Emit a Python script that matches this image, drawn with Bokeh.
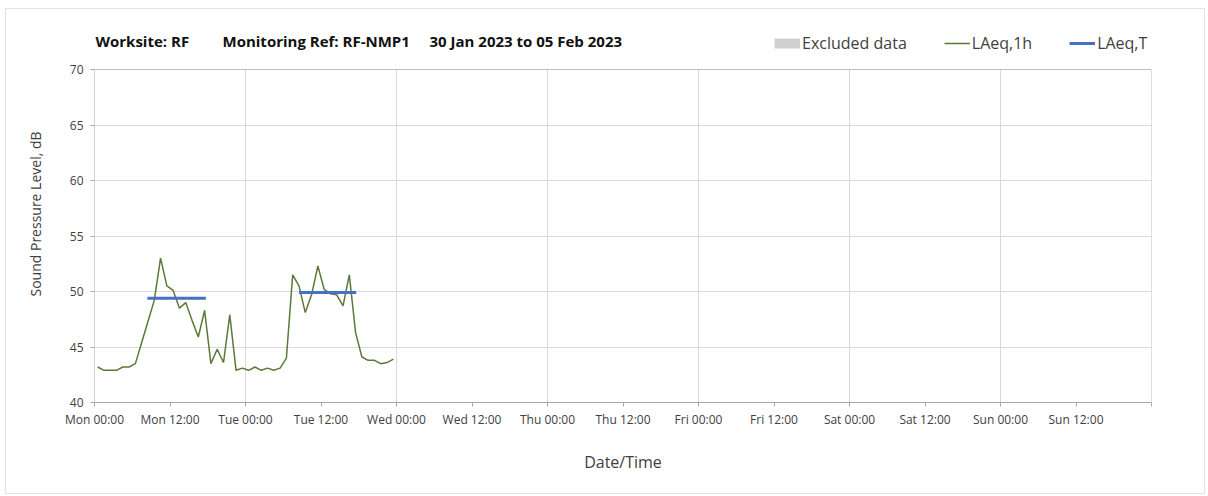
from bokeh.plotting import figure
from bokeh.models import Range1d, FixedTicker, Legend, LegendItem, Label
from bokeh.embed import file_html
from bokeh.resources import INLINE

# ---- data ----
title_parts = ["Worksite: RF", "Monitoring Ref: RF-NMP1", "30 Jan 2023 to 05 Feb 2023"]
tick_hours = [0, 12, 24, 36, 48, 60, 72, 84, 96, 108, 120, 132, 144, 156, 168]
tick_labels = ["Mon 00:00", "Mon 12:00", "Tue 00:00", "Tue 12:00", "Wed 00:00", "Wed 12:00",
               "Thu 00:00", "Thu 12:00", "Fri 00:00", "Fri 12:00", "Sat 00:00", "Sat 12:00",
               "Sun 00:00", "Sun 12:00", ""]
day_grid_hours = [24, 48, 72, 96, 120, 144]
y_ticks = [40, 45, 50, 55, 60, 65, 70]
y_min, y_max = 40, 70

hour_of_week = [0.5, 1.5, 2.5, 3.5, 4.5, 5.5, 6.5, 7.5, 8.5, 9.5, 10.5, 11.5,
                12.5, 13.5, 14.5, 15.5, 16.5, 17.5, 18.5, 19.5, 20.5, 21.5, 22.5, 23.5,
                24.5, 25.5, 26.5, 27.5, 28.5, 29.5, 30.5, 31.5, 32.5, 33.5, 34.5, 35.5,
                36.5, 37.5, 38.5, 39.5, 40.5, 41.5, 42.5, 43.5, 44.5, 45.5, 46.5, 47.5]
laeq_1h = [43.2, 42.9, 42.9, 42.9, 43.2, 43.2, 43.5, 45.4, 47.3, 49.2,
           53.0, 50.5, 50.1, 48.5, 49.0, 47.4, 45.9, 48.3, 43.5, 44.8,
           43.6, 47.9, 42.9, 43.1, 42.9, 43.2, 42.9, 43.1, 42.9, 43.1,
           44.0, 51.5, 50.5, 48.1, 49.7, 52.3, 50.2, 49.8, 49.7, 48.7,
           51.5, 46.3, 44.1, 43.8, 43.8, 43.5, 43.6, 43.9]

laeq_t_start = [8.4, 32.5]
laeq_t_end = [17.7, 41.6]
laeq_t_value = [49.4, 49.9]

# no excluded periods in this week (placeholder keeps the legend entry)
excluded_x = [float("nan")]
excluded_y = [float("nan")]

FONT = "Open Sans"
TXT = "#404040"
AX = "#a6a6a6"
GRID = "#d9d9d9"
FRAME = "#bfbfbf"

# frame extends above 70 dB to host the header (title + legend)
Y_TOP = 73.964

p = figure(width=1200, height=486, output_backend="svg", toolbar_location=None,
           x_range=Range1d(0, 168), y_range=Range1d(y_min, Y_TOP),
           min_border_left=88, min_border_right=55, min_border_top=16, min_border_bottom=93)
p.title.text = ""
p.outline_line_color = None
p.styles = {"border": "1px solid #e3e3e3", "margin-left": "5px", "margin-top": "8px"}

# axes
p.xaxis.ticker = FixedTicker(ticks=tick_hours)
p.xaxis.major_label_overrides = {h: l for h, l in zip(tick_hours, tick_labels)}
p.yaxis.ticker = FixedTicker(ticks=y_ticks)
for ax in (p.xaxis[0], p.yaxis[0]):
    ax.axis_line_color = AX
    ax.major_tick_line_color = AX
    ax.major_tick_out = 4
    ax.major_tick_in = 0
    ax.minor_tick_line_color = None
    ax.major_label_text_font = FONT
    ax.major_label_text_font_size = "12px"
    ax.major_label_text_color = TXT
    ax.axis_label_text_font = FONT
    ax.axis_label_text_font_style = "normal"
    ax.axis_label_text_color = TXT
p.yaxis.axis_line_color = None

p.xaxis.axis_label = "Date/Time"
p.xaxis.axis_label_text_font_size = "16px"
p.xaxis.major_label_standoff = 4
p.xaxis.axis_label_standoff = 20
p.yaxis.axis_label = "Sound Pressure Level, dB"
p.yaxis.axis_label_text_font_size = "14px"
p.yaxis.major_label_standoff = 7
p.yaxis.axis_label_standoff = 22

p.xgrid.grid_line_color = None
p.ygrid.ticker = FixedTicker(ticks=y_ticks)
p.ygrid.grid_line_color = GRID

# vertical day gridlines, plot-area frame and y axis line (limited to 40-70 dB)
p.segment(x0=day_grid_hours, y0=y_min, x1=day_grid_hours, y1=y_max, line_color=GRID, line_width=1)
p.segment(x0=[0, 168], y0=[y_max, y_min], x1=[168, 168], y1=[y_max, y_max],
          line_color=FRAME, line_width=1)
p.segment(x0=0, y0=y_min, x1=0, y1=y_max, line_color=AX, line_width=1)

# renderers
excl = p.line(x=excluded_x, y=excluded_y, line_width=10, line_color="#d0d0d0")
r1h = p.line(hour_of_week, laeq_1h, line_color="#5b7a3a", line_width=1.5)
rT = p.segment(x0=laeq_t_start, y0=laeq_t_value, x1=laeq_t_end, y1=laeq_t_value,
               line_color="#4472c4", line_width=3)

# title, in three parts as in the original header
for part, off in zip(title_parts, [1, 128, 335]):
    p.add_layout(Label(x=0, y=72.61, x_offset=off, text=part, text_baseline="middle",
                       text_font=FONT, text_font_size="15px", text_font_style="bold",
                       text_color="#111111"))

legend = Legend(items=[LegendItem(label="Excluded data", renderers=[excl]),
                       LegendItem(label="LAeq,1h", renderers=[r1h]),
                       LegendItem(label="LAeq,T", renderers=[rT])],
                orientation="horizontal", location=(680, 348),
                glyph_width=26, glyph_height=20, label_height=20,
                label_standoff=2, spacing=37, padding=0, margin=0,
                border_line_color=None, background_fill_alpha=0,
                label_text_font=FONT, label_text_font_size="16px",
                label_text_color=TXT)
p.add_layout(legend, "center")

open("out.html", "w").write(file_html(p, INLINE))
